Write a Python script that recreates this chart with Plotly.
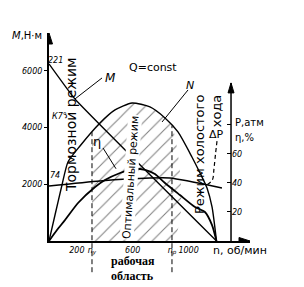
import numpy as np
import plotly.graph_objects as go

# ---- data ----
n_M = [0, 186, 1200]
M_vals = [6250, 5010, 0]

n_N = [0, 43, 93, 136, 222, 365, 473, 595, 723, 831, 924, 1024, 1082, 1132, 1168, 1200]
N_vals = [0, 918, 1977, 2789, 3353, 4165, 4624, 4871, 4730, 4342, 3848, 2965, 2400, 1871, 1200, 0]

n_eta = [0, 57, 115, 208, 330, 401, 509, 602, 688, 759, 831, 938, 1046, 1117, 1168, 1200]
eta_vals = [0, 7.6, 14.5, 26.2, 37.2, 42.1, 46.9, 49.7, 49.0, 46.2, 40.0, 31.7, 23.4, 20.0, 11.0, 0]

n_P = [0, 365, 723, 867, 1239]
P_vals = [37.9, 41.4, 43.4, 43.4, 36.6]

n_dP = [1135, 1170, 1182, 1193, 1205]
dP_vals = [39, 42, 50, 60, 70]

n_y = 308
n_p = 881

x_ticks = [200, n_y, 600, n_p, 1000]
x_ticktext = ["200", "n<sub>у</sub>", "600", "n<sub>р</sub>", "1000"]
left_ticks = [2000, 4000, 6000]
right_ticks = [20, 40, 60, 80]
right_ticktext = ["20", "40", "60", " "]

XMAX = 1440
YMAX = 7340
Y2MAX = 143.4
RIGHT_AXIS_X = 1304
RIGHT_AXIS_TOP = 109

FONT = "DejaVu Sans"

fig = go.Figure()

# hatched working region under N between n_y and n_p
N_ny = float(np.interp(n_y, n_N, N_vals))
N_np = float(np.interp(n_p, n_N, N_vals))
inner = [(a, b) for a, b in zip(n_N, N_vals) if n_y < a < n_p]
hx = [n_y] + [a for a, _ in inner] + [n_p, n_p, n_y]
hy = [N_ny] + [b for _, b in inner] + [N_np, 0, 0]
fig.add_trace(go.Scatter(x=hx, y=hy, mode="lines", fill="toself", line=dict(width=0, shape="spline"),
                         fillcolor="rgba(0,0,0,0)",
                         fillpattern=dict(shape="/", size=10, solidity=0.1, fgcolor="black", bgcolor="white"),
                         hoverinfo="skip", showlegend=False))

fig.add_trace(go.Scatter(x=n_N, y=N_vals, mode="lines", line=dict(color="black", width=1.4, shape="spline", smoothing=0.6),
                         showlegend=False))
fig.add_trace(go.Scatter(x=n_M, y=M_vals, mode="lines", line=dict(color="black", width=1.3, shape="spline", smoothing=0.3),
                         showlegend=False))
fig.add_trace(go.Scatter(x=n_eta, y=eta_vals, yaxis="y2", mode="lines",
                         line=dict(color="black", width=1.8, shape="spline", smoothing=0.6), showlegend=False))
fig.add_trace(go.Scatter(x=n_P, y=P_vals, yaxis="y2", mode="lines",
                         line=dict(color="black", width=1.5, shape="spline", smoothing=0.6), showlegend=False))
fig.add_trace(go.Scatter(x=n_dP, y=dP_vals, yaxis="y2", mode="lines",
                         line=dict(color="black", width=1.2, dash="4px,3px", shape="spline"), showlegend=False))

shapes = []
# dashed boundaries of working region (extend below axis)
for nv, top in [(n_y, N_ny), (n_p, N_np)]:
    shapes.append(dict(type="line", xref="x", yref="paper", x0=nv, x1=nv, y0=-0.15, y1=top / YMAX,
                       line=dict(color="black", width=1, dash="5px,3px")))
# right axis line
shapes.append(dict(type="line", xref="x", yref="y2", x0=RIGHT_AXIS_X, x1=RIGHT_AXIS_X, y0=0, y1=RIGHT_AXIS_TOP,
                   line=dict(color="black", width=1.5)))
# leader lines
shapes.append(dict(type="line", xref="x", yref="y", x0=186, y0=5012, x1=380, y1=5754, line=dict(color="black", width=1)))
shapes.append(dict(type="line", xref="x", yref="y", x0=810, y0=4200, x1=996, y1=5330, line=dict(color="black", width=1)))
shapes.append(dict(type="line", xref="x", yref="y", x0=387, y0=3283, x1=480, y1=2550, line=dict(color="black", width=1)))

# arrow heads (pixel-sized triangles anchored at axis ends)
def arrow(xa, ya, path, yref="y"):
    shapes.append(dict(type="path", xref="x", yref=yref, xsizemode="pixel", ysizemode="pixel",
                       xanchor=xa, yanchor=ya, path=path, fillcolor="black", line=dict(color="black", width=1)))
arrow(0, YMAX, "M -3.5,-11 L 0,0 L 3.5,-11 Z")
arrow(XMAX, 0, "M -11,-3.5 L 0,0 L -11,3.5 Z")
arrow(RIGHT_AXIS_X, RIGHT_AXIS_TOP, "M -3,-10 L 0,0 L 3,-10 Z", yref="y2")

ann = []
def txt(text, x, y, size, xref="x", yref="y", angle=0, style="normal", weight="normal", family=FONT,
        xanchor="center", yanchor="middle", align="center", bg=None):
    d = dict(text=text, x=x, y=y, xref=xref, yref=yref, showarrow=False, textangle=angle,
             font=dict(size=size, family=family, color="black", style=style, weight=weight),
             xanchor=xanchor, yanchor=yanchor, align=align, borderpad=0)
    if bg:
        d["bgcolor"] = bg
    ann.append(d)

txt("<i>M</i>,Н·м", -0.11, 0.986, 10, xref="paper", yref="paper")
txt("221", 50, 6354, 8, style="italic")
txt("К7°", 72, 4377, 8, style="italic")
txt("74", 43, 2294, 8, style="italic")
txt("<i>M</i>", 444, 5754, 12)
txt("Q=const", 745, 6107, 11)
txt("<i>N</i>", 1010, 5471, 11)
txt("η", 344, 3495, 13)
txt("Тормозной режим", 158, 4095, 14, angle=-90)
txt("Оптимальный режим", 590, 2260, 11, angle=-86, bg="white")
txt("Режим холостого<br>хода", 1139, (241 - 154) / 0.02833, 13, angle=-90, align="right")
txt("ΔP", 1203, (241 - 135) / 0.02833, 11)
txt("P,атм", 1325, (241 - 123) / 0.02833, 10, xanchor="left")
txt("η,%", 1325, (241 - 138) / 0.02833, 10, xanchor="left")
txt("n, об/мин", 0.812, -0.045, 11, xref="paper", yref="paper", xanchor="left")
txt("рабочая", 600, -0.098, 12, yref="paper", weight="bold", family="Liberation Serif")
txt("область", 600, -0.166, 12, yref="paper", weight="bold", family="Liberation Serif")

fig.update_layout(
    width=304, height=287,
    margin=dict(l=49, r=54, t=33, b=46),
    paper_bgcolor="white", plot_bgcolor="white",
    showlegend=False,
    shapes=shapes, annotations=ann,
    xaxis=dict(range=[0, XMAX], showgrid=False, zeroline=False, showline=True, linecolor="black", linewidth=2,
               tickvals=x_ticks, ticktext=x_ticktext, ticks="", ticklen=0, tickangle=0,
               tickfont=dict(size=8, family=FONT, color="black", style="italic")),
    yaxis=dict(range=[0, YMAX], showgrid=False, zeroline=False, showline=True, linecolor="black", linewidth=2,
               tickvals=left_ticks, ticks="outside", ticklen=3, tickcolor="black",
               tickfont=dict(size=8, family=FONT, color="black", style="italic")),
    yaxis2=dict(range=[0, Y2MAX], overlaying="y", anchor="free", position=(RIGHT_AXIS_X / XMAX), side="right",
                showgrid=False, zeroline=False, showline=False,
                tickvals=right_ticks, ticktext=right_ticktext, ticks="inside", ticklen=4, tickcolor="black",
                tickfont=dict(size=8, family=FONT, color="black", style="italic")),
)

fig.write_html("out.html")
